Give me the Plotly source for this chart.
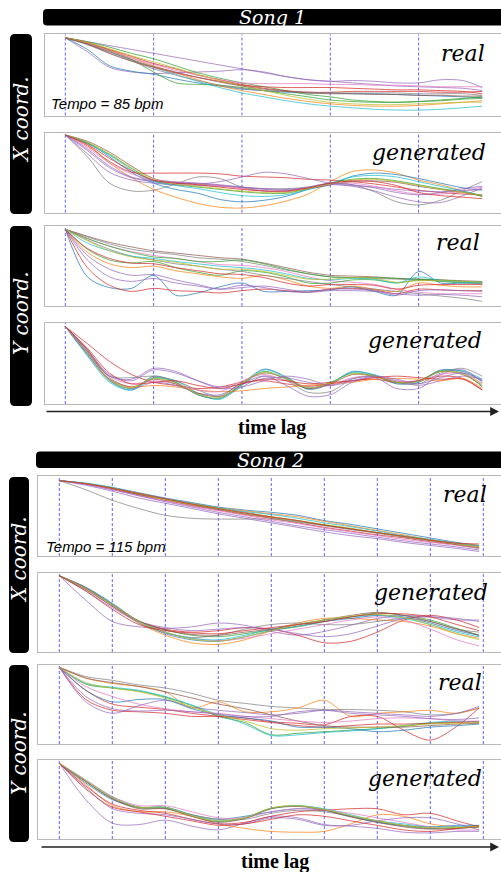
import plotly.graph_objects as go

W, H = 501, 872

# ---------------- data ----------------
LAG_S1 = [0, 0.25, 0.5, 0.75, 1, 1.25, 1.5, 1.75, 2, 2.25, 2.5, 2.75, 3, 3.25, 3.5, 3.75, 4, 4.25, 4.5, 4.72]
LAG_S2 = [0, 0.5, 1, 1.5, 2, 2.5, 3, 3.5, 4, 4.5, 5, 5.5, 6, 6.5, 7, 7.5, 7.92]
BEATS_S1 = [0, 1, 2, 3, 4]
BEATS_S2 = [0, 1, 2, 3, 4, 5, 6, 7, 8]

S1_X_REAL = [
    [1.0, .95, .90, .85, .80, .75, .70, .65, .60, .55, .50, .46, .44, .45, .44, .42, .42, .46, .45, .36],
    [1.0, .82, .62, .56, .54, .55, .56, .57, .59, .56, .50, .46, .44, .42, .40, .38, .37, .36, .35, .32],
    [1.0, .85, .64, .57, .53, .47, .42, .38, .34, .32, .30, .29, .29, .28, .28, .27, .26, .25, .24, .23],
    [1.0, .95, .88, .80, .73, .64, .55, .48, .42, .37, .32, .27, .24, .20, .18, .17, .18, .20, .22, .24],
    [1.0, .93, .84, .72, .56, .42, .40, .39, .36, .32, .28, .24, .20, .18, .17, .17, .18, .19, .21, .22],
    [1.0, .93, .84, .74, .64, .55, .46, .38, .32, .27, .22, .18, .15, .13, .12, .12, .13, .15, .17, .19],
    [1.0, .92, .82, .71, .62, .53, .44, .36, .29, .24, .19, .15, .12, .10, .08, .07, .07, .08, .10, .12],
    [1.0, .92, .80, .70, .62, .55, .49, .44, .39, .37, .36, .36, .36, .35, .34, .33, .33, .32, .31, .28],
    [1.0, .94, .85, .76, .67, .60, .52, .46, .40, .35, .32, .30, .30, .31, .31, .31, .31, .30, .30, .31],
    [1.0, .93, .83, .74, .66, .58, .52, .46, .42, .41, .41, .41, .40, .40, .39, .39, .38, .37, .37, .37],
    [1.0, .91, .80, .70, .60, .52, .45, .39, .35, .32, .31, .30, .29, .29, .29, .29, .28, .28, .28, .26],
    [1.0, .94, .86, .77, .69, .61, .53, .45, .38, .32, .26, .21, .17, .15, .14, .14, .15, .16, .17, .17],
    [1.0, .92, .82, .72, .63, .56, .49, .43, .38, .34, .31, .29, .28, .28, .27, .27, .26, .26, .25, .25],
]
C_S1_X_REAL = ["purple", "purple", "blue", "green", "green", "orange", "cyan", "red", "red", "pink", "gray", "olive", "brown"]

S1_X_GEN = [
    [1.0, .72, .38, .28, .29, .37, .46, .44, .33, .31, .31, .33, .38, .36, .27, .14, .10, .16, .29, .40],
    [1.0, .88, .64, .45, .30, .20, .12, .07, .06, .09, .15, .24, .40, .53, .55, .51, .42, .36, .28, .21],
    [1.0, .90, .72, .52, .38, .30, .25, .17, .14, .16, .21, .30, .36, .47, .51, .49, .44, .38, .32, .29],
    [1.0, .86, .66, .52, .51, .51, .51, .50, .47, .46, .45, .43, .42, .40, .37, .33, .29, .26, .24, .23],
    [1.0, .80, .58, .45, .40, .38, .37, .40, .46, .52, .50, .44, .38, .35, .33, .30, .28, .27, .28, .30],
    [1.0, .90, .75, .57, .41, .36, .33, .30, .27, .25, .25, .31, .38, .43, .44, .41, .36, .31, .27, .21],
    [1.0, .92, .78, .60, .44, .39, .37, .35, .32, .28, .27, .31, .36, .40, .41, .39, .34, .30, .26, .22],
    [1.0, .89, .74, .55, .40, .35, .31, .26, .22, .21, .23, .30, .38, .46, .48, .46, .40, .34, .28, .22],
    [1.0, .76, .52, .42, .38, .36, .35, .34, .33, .31, .30, .32, .36, .34, .28, .20, .14, .13, .22, .32],
    [1.0, .84, .64, .50, .42, .40, .38, .35, .31, .28, .28, .32, .37, .38, .34, .28, .24, .24, .28, .33],
    [1.0, .91, .76, .58, .43, .37, .34, .31, .28, .26, .26, .31, .37, .42, .43, .40, .35, .30, .26, .23],
    [1.0, .82, .60, .46, .41, .39, .38, .36, .33, .30, .29, .33, .38, .36, .32, .26, .23, .26, .31, .34],
    [1.0, .88, .70, .54, .42, .38, .36, .33, .30, .28, .28, .32, .38, .41, .40, .35, .26, .22, .20, .18],
]
C_S1_X_GEN = ["gray", "orange", "blue", "red", "purple", "green", "brown", "cyan", "purple", "pink", "olive", "purple", "red"]

S1_Y_REAL = [
    [1.0, .90, .81, .74, .70, .67, .63, .61, .58, .53, .47, .42, .38, .37, .36, .35, .34, .33, .31, .30],
    [1.0, .91, .83, .77, .72, .69, .66, .63, .61, .56, .50, .44, .40, .39, .38, .36, .35, .34, .33, .32],
    [1.0, .88, .78, .71, .66, .62, .58, .54, .53, .50, .45, .38, .33, .31, .28, .22, .18, .16, .16, .16],
    [1.0, .88, .78, .70, .64, .62, .58, .58, .60, .55, .48, .42, .38, .37, .37, .36, .35, .34, .32, .31],
    [1.0, .74, .60, .56, .58, .50, .44, .40, .46, .44, .38, .30, .30, .34, .34, .30, .34, .32, .30, .30],
    [1.0, .38, .24, .23, .40, .14, .17, .25, .30, .19, .19, .20, .21, .25, .19, .14, .45, .30, .30, .30],
    [1.0, .50, .27, .19, .23, .20, .19, .17, .20, .22, .20, .18, .22, .23, .21, .16, .22, .21, .20, .20],
    [1.0, .70, .55, .50, .52, .46, .42, .38, .36, .40, .34, .26, .23, .26, .22, .19, .30, .27, .25, .25],
    [1.0, .66, .48, .40, .41, .34, .28, .22, .24, .26, .22, .18, .20, .20, .19, .16, .14, .15, .14, .12],
    [1.0, .86, .74, .65, .60, .55, .52, .48, .45, .40, .36, .32, .28, .25, .22, .19, .16, .13, .10, .06],
    [1.0, .75, .62, .56, .55, .50, .46, .42, .41, .37, .30, .26, .28, .28, .27, .22, .27, .28, .28, .28],
    [1.0, .82, .72, .65, .62, .58, .55, .52, .50, .47, .42, .36, .34, .36, .35, .30, .38, .33, .31, .31],
    [1.0, .85, .72, .64, .60, .57, .52, .48, .48, .45, .40, .35, .35, .37, .36, .31, .33, .33, .32, .31],
    [1.0, .60, .38, .32, .36, .30, .26, .22, .27, .24, .19, .18, .22, .22, .20, .14, .20, .21, .20, .19],
]
C_S1_Y_REAL = ["gray", "brown", "pink", "green", "green", "blue", "red", "orange", "purple", "gray", "red", "cyan", "olive", "purple"]

S1_Y_GEN = [
    [1.0, .66, .31, .20, .34, .28, .12, .08, .25, .42, .32, .20, .28, .40, .36, .27, .30, .43, .40, .22],
    [1.0, .64, .30, .18, .36, .28, .12, .07, .26, .45, .35, .19, .26, .42, .37, .26, .28, .44, .42, .30],
    [1.0, .62, .28, .18, .33, .30, .14, .06, .24, .44, .34, .21, .27, .41, .38, .28, .29, .42, .43, .32],
    [1.0, .78, .55, .38, .28, .24, .20, .22, .28, .30, .26, .23, .26, .30, .32, .28, .30, .36, .33, .18],
    [1.0, .70, .38, .30, .44, .40, .30, .22, .26, .33, .34, .28, .24, .33, .36, .30, .24, .30, .36, .32],
    [1.0, .68, .32, .22, .24, .22, .18, .16, .17, .20, .22, .24, .26, .28, .32, .33, .32, .30, .33, .20],
    [1.0, .67, .36, .34, .36, .30, .18, .10, .22, .36, .30, .15, .16, .32, .36, .28, .26, .40, .46, .36],
    [1.0, .64, .32, .20, .28, .24, .14, .12, .26, .36, .24, .10, .12, .28, .34, .20, .20, .38, .44, .28],
    [1.0, .70, .36, .26, .30, .26, .18, .16, .30, .38, .30, .22, .24, .34, .36, .30, .30, .38, .40, .26],
    [1.0, .70, .34, .22, .32, .26, .14, .10, .28, .40, .33, .20, .26, .38, .36, .28, .30, .42, .38, .24],
    [1.0, .66, .31, .21, .33, .27, .13, .08, .27, .41, .33, .21, .27, .39, .36, .28, .29, .42, .39, .26],
    [1.0, .72, .40, .26, .28, .30, .24, .20, .26, .32, .30, .26, .28, .30, .34, .36, .34, .32, .32, .18],
    [1.0, .68, .36, .32, .46, .42, .30, .20, .22, .30, .36, .32, .24, .30, .36, .32, .26, .34, .40, .30],
]
C_S1_Y_GEN = ["green", "blue", "cyan", "red", "purple", "orange", "gray", "purple", "pink", "brown", "olive", "red", "purple"]

S2_X_REAL = [
    [1.0, .96, .90, .82, .76, .69, .63, .58, .52, .47, .41, .36, .31, .26, .21, .16, .13],
    [1.0, .96, .91, .84, .77, .71, .65, .61, .58, .54, .47, .42, .36, .30, .24, .18, .14],
    [1.0, .96, .90, .83, .76, .70, .64, .60, .56, .52, .46, .40, .34, .28, .22, .17, .14],
    [1.0, .96, .90, .82, .75, .68, .62, .56, .51, .46, .41, .36, .31, .26, .21, .15, .10],
    [1.0, .96, .89, .81, .74, .67, .61, .55, .50, .44, .38, .33, .28, .24, .19, .15, .11],
    [1.0, .94, .86, .77, .70, .63, .56, .50, .44, .38, .32, .27, .23, .18, .14, .10, .06],
    [1.0, .88, .74, .63, .54, .50, .49, .49, .49, .45, .40, .35, .30, .25, .20, .16, .12],
    [1.0, .95, .88, .80, .73, .66, .60, .54, .48, .43, .37, .32, .27, .22, .18, .14, .10],
    [1.0, .97, .91, .83, .76, .70, .64, .59, .55, .50, .44, .39, .33, .27, .22, .17, .13],
    [1.0, .96, .90, .83, .75, .69, .63, .57, .52, .47, .42, .37, .31, .26, .21, .16, .12],
    [1.0, .95, .88, .80, .72, .65, .58, .52, .46, .40, .35, .30, .25, .20, .16, .12, .08],
    [1.0, .96, .90, .83, .76, .69, .63, .57, .52, .47, .41, .36, .31, .26, .21, .17, .16],
]
C_S2_X_REAL = ["brown", "blue", "orange", "green", "red", "purple", "gray", "pink", "cyan", "olive", "purple", "red"]

S2_X_GEN = [
    [1.0, .83, .62, .40, .29, .22, .20, .24, .29, .33, .40, .46, .51, .48, .42, .31, .22],
    [1.0, .68, .40, .33, .31, .33, .38, .35, .27, .22, .27, .35, .44, .48, .46, .42, .42],
    [1.0, .82, .60, .40, .30, .26, .28, .32, .30, .22, .12, .14, .26, .42, .48, .42, .32],
    [1.0, .84, .62, .38, .22, .12, .10, .16, .28, .38, .44, .44, .42, .40, .34, .24, .18],
    [1.0, .85, .64, .40, .24, .16, .14, .20, .28, .34, .40, .44, .48, .46, .38, .28, .22],
    [1.0, .82, .60, .38, .25, .19, .22, .30, .36, .38, .36, .36, .40, .44, .40, .30, .26],
    [1.0, .84, .62, .40, .26, .18, .15, .18, .24, .30, .36, .42, .46, .42, .30, .16, .08],
    [1.0, .80, .58, .40, .32, .28, .30, .32, .30, .24, .20, .24, .34, .44, .46, .44, .40],
    [1.0, .84, .63, .40, .26, .18, .16, .22, .30, .36, .42, .46, .48, .44, .36, .26, .20],
    [1.0, .84, .62, .41, .29, .23, .22, .26, .30, .36, .42, .48, .52, .48, .40, .30, .22],
    [1.0, .83, .62, .40, .26, .17, .14, .20, .28, .36, .42, .47, .49, .45, .36, .24, .16],
    [1.0, .80, .56, .36, .28, .25, .24, .28, .32, .36, .40, .46, .50, .50, .46, .36, .28],
]
C_S2_X_GEN = ["green", "purple", "red", "orange", "blue", "gray", "pink", "purple", "cyan", "brown", "olive", "red"]

S2_Y_REAL = [
    [1.0, .88, .83, .77, .73, .66, .57, .53, .49, .47, .45, .45, .44, .42, .38, .40, .47],
    [1.0, .86, .79, .75, .68, .47, .55, .42, .42, .47, .57, .36, .40, .42, .44, .40, .47],
    [1.0, .78, .73, .69, .61, .50, .36, .28, .12, .14, .16, .18, .20, .23, .27, .29, .29],
    [1.0, .79, .74, .70, .62, .51, .38, .26, .11, .12, .15, .17, .20, .24, .28, .30, .28],
    [1.0, .58, .44, .42, .40, .36, .36, .34, .29, .27, .25, .36, .36, .18, .05, .23, .47],
    [1.0, .70, .52, .48, .45, .40, .36, .32, .28, .24, .22, .24, .26, .26, .27, .28, .29],
    [1.0, .55, .40, .50, .57, .48, .44, .41, .38, .40, .44, .42, .40, .38, .36, .40, .49],
    [1.0, .70, .55, .58, .58, .46, .38, .34, .30, .22, .22, .20, .16, .18, .22, .24, .26],
    [1.0, .86, .80, .75, .68, .60, .52, .46, .38, .30, .24, .22, .22, .22, .24, .26, .27],
    [1.0, .75, .62, .52, .46, .42, .40, .36, .33, .30, .28, .30, .33, .34, .33, .30, .30],
    [1.0, .80, .73, .68, .60, .48, .38, .30, .20, .18, .20, .21, .22, .24, .26, .27, .28],
    [1.0, .62, .46, .43, .44, .42, .39, .36, .36, .42, .44, .40, .38, .36, .33, .32, .34],
]
C_S2_Y_REAL = ["gray", "orange", "green", "cyan", "red", "red", "purple", "blue", "brown", "pink", "olive", "purple"]

S2_Y_GEN = [
    [1.0, .76, .54, .41, .41, .30, .23, .28, .41, .44, .39, .30, .23, .17, .14, .15, .17],
    [1.0, .52, .21, .19, .25, .17, .12, .21, .30, .28, .19, .17, .14, .09, .08, .10, .10],
    [1.0, .72, .44, .36, .36, .30, .20, .14, .10, .09, .10, .20, .32, .30, .20, .16, .15],
    [1.0, .70, .46, .38, .34, .26, .20, .22, .30, .36, .38, .40, .40, .32, .34, .24, .16],
    [1.0, .74, .52, .42, .42, .32, .26, .30, .36, .40, .38, .30, .22, .18, .16, .18, .18],
    [1.0, .78, .56, .42, .42, .32, .24, .28, .40, .44, .40, .32, .24, .20, .16, .16, .18],
    [1.0, .76, .54, .42, .40, .32, .26, .26, .34, .38, .36, .30, .24, .18, .14, .14, .16],
    [1.0, .78, .56, .44, .44, .36, .28, .28, .36, .40, .38, .34, .28, .22, .16, .12, .12],
    [1.0, .76, .53, .40, .40, .30, .22, .27, .40, .43, .38, .29, .22, .16, .13, .14, .16],
    [1.0, .68, .40, .34, .32, .26, .20, .20, .28, .26, .18, .18, .24, .28, .28, .20, .12],
    [1.0, .66, .42, .36, .30, .24, .18, .20, .26, .32, .30, .24, .18, .12, .10, .14, .18],
    [1.0, .77, .55, .42, .42, .31, .24, .28, .41, .44, .39, .31, .24, .18, .15, .15, .17],
]
C_S2_Y_GEN = ["green", "purple", "orange", "red", "blue", "cyan", "gray", "pink", "brown", "purple", "red", "olive"]

PALETTE = {
    "blue": "#1f77b4", "orange": "#ff7f0e", "green": "#2ca02c", "red": "#d62728",
    "purple": "#9467bd", "brown": "#8c564b", "pink": "#e377c2", "gray": "#7f7f7f",
    "olive": "#bcbd22", "cyan": "#17becf",
}

# ---------------- layout helpers ----------------
def px(x):
    return x / W

def py(y):
    return 1 - y / H

def rrect(x0, y0, x1, y1, r):
    p = [
        f"M {px(x0+r)},{py(y0)}",
        f"L {px(x1-r)},{py(y0)}",
        f"Q {px(x1)},{py(y0)} {px(x1)},{py(y0+r)}",
        f"L {px(x1)},{py(y1-r)}",
        f"Q {px(x1)},{py(y1)} {px(x1-r)},{py(y1)}",
        f"L {px(x0+r)},{py(y1)}",
        f"Q {px(x0)},{py(y1)} {px(x0)},{py(y1-r)}",
        f"L {px(x0)},{py(y0+r)}",
        f"Q {px(x0)},{py(y0)} {px(x0+r)},{py(y0)} Z",
    ]
    return dict(type="path", xref="paper", yref="paper", path=" ".join(p),
                fillcolor="black", line=dict(width=0), layer="above")

# panel geometry (pixels)
PANELS = [
    # data, colors, lag, beats, left, top, bottom, x0px, beatpx, ytop
    (S1_X_REAL, C_S1_X_REAL, LAG_S1, BEATS_S1, 45, 34.3, 115.5, 65.3, 88.33, 1.045),
    (S1_X_GEN, C_S1_X_GEN, LAG_S1, BEATS_S1, 45, 132.7, 212.7, 65.3, 88.33, 1.03),
    (S1_Y_REAL, C_S1_Y_REAL, LAG_S1, BEATS_S1, 45, 226, 306, 65.3, 88.33, 1.043),
    (S1_Y_GEN, C_S1_Y_GEN, LAG_S1, BEATS_S1, 45, 322.7, 404, 65.3, 88.33, 1.05),
    (S2_X_REAL, C_S2_X_REAL, LAG_S2, BEATS_S2, 38, 476, 556, 59.3, 53.0, 1.062),
    (S2_X_GEN, C_S2_X_GEN, LAG_S2, BEATS_S2, 38, 572.7, 652, 59.3, 53.0, 1.04),
    (S2_Y_REAL, C_S2_Y_REAL, LAG_S2, BEATS_S2, 38, 665, 744, 59.3, 53.0, 1.03),
    (S2_Y_GEN, C_S2_Y_GEN, LAG_S2, BEATS_S2, 38, 760, 839, 59.3, 53.0, 1.044),
]

fig = go.Figure()
layout = dict(
    width=W, height=H, margin=dict(l=0, r=0, t=0, b=0),
    paper_bgcolor="white", plot_bgcolor="white", showlegend=False,
)
shapes = []

for i, (data, cols, lag, beats, left, top, bottom, x0px, beatpx, ytop) in enumerate(PANELS, start=1):
    xa = "x" if i == 1 else f"x{i}"
    ya = "y" if i == 1 else f"y{i}"
    xkey = "xaxis" if i == 1 else f"xaxis{i}"
    ykey = "yaxis" if i == 1 else f"yaxis{i}"
    layout[xkey] = dict(
        domain=[left / W, 1.0], anchor=ya,
        range=[-(x0px - left) / beatpx, (W - x0px) / beatpx],
        showgrid=False, zeroline=False, showticklabels=False, ticks="",
        showline=True, mirror=True, linecolor="#b8b8b8", linewidth=1, fixedrange=True,
    )
    layout[ykey] = dict(
        domain=[1 - bottom / H, 1 - top / H], anchor=xa,
        range=[0, ytop],
        showgrid=False, zeroline=False, showticklabels=False, ticks="",
        showline=True, mirror=True, linecolor="#b8b8b8", linewidth=1, fixedrange=True,
    )
    for b in beats:
        shapes.append(dict(type="line", xref=xa, yref=f"{ya} domain", x0=b, x1=b, y0=0, y1=1,
                           line=dict(color="rgba(60,60,255,0.8)", width=1, dash="3px,2px"),
                           layer="below"))
    for series, c in zip(data, cols):
        fig.add_trace(go.Scatter(
            x=lag, y=series, xaxis=xa, yaxis=ya, mode="lines",
            line=dict(color=PALETTE[c], width=1, shape="spline", smoothing=0.9),
            opacity=0.72, hoverinfo="skip",
        ))

# black label bars
shapes += [
    rrect(43, 9, 520, 25.5, 4),
    rrect(10, 34, 32, 214, 5),
    rrect(10, 226, 32, 406, 5),
    rrect(36, 451.5, 520, 468, 4),
    rrect(9, 477, 29, 653, 5),
    rrect(9, 665, 29, 842, 5),
]
layout["shapes"] = shapes

SERIF = "Liberation Serif"
WIDE_SERIF = "DejaVu Serif"
SANS = "Liberation Sans"
ann = []

def text(t, x, y, size, color="black", family=WIDE_SERIF, xanchor="center", angle=0):
    ann.append(dict(text=t, x=px(x), y=py(y), xref="paper", yref="paper", showarrow=False,
                    xanchor=xanchor, yanchor="middle", textangle=angle,
                    font=dict(family=family, size=size, color=color)))

# titles
text("<i>Song 1</i>", 272, 17.5, 19, "white")
text("<i>Song 2</i>", 270, 460, 19, "white")
# side labels
text("<i>X coord.</i>", 21, 120, 20, "white", angle=-90)
text("<i>Y coord.</i>", 21, 313, 20, "white", angle=-90)
text("<i>X coord.</i>", 19, 560, 20, "white", angle=-90)
text("<i>Y coord.</i>", 19, 753, 20, "white", angle=-90)
# panel labels
text("<i>real</i>", 487, 53, 22, xanchor="right")
text("<i>generated</i>", 488, 152, 22, xanchor="right")
text("<i>real</i>", 482, 242, 22, xanchor="right")
text("<i>generated</i>", 484, 340, 22, xanchor="right")
text("<i>real</i>", 489, 494, 22, xanchor="right")
text("<i>generated</i>", 490, 592, 22, xanchor="right")
text("<i>real</i>", 484, 682, 22, xanchor="right")
text("<i>generated</i>", 484, 778, 22, xanchor="right")
# tempo
text("<i>Tempo = 85 bpm</i>", 49, 104, 15, family=SANS, xanchor="left")
text("<i>Tempo = 115 bpm</i>", 44, 546, 15, family=SANS, xanchor="left")
# time lag
text("<b>time lag</b>", 272, 427, 20, family=SERIF)
text("<b>time lag</b>", 275, 861, 20, family=SERIF)

# arrows
for (x0, x1, y) in [(45, 499, 411.5), (40, 499, 847)]:
    ann.append(dict(text="", x=px(x1), y=py(y), xref="paper", yref="paper",
                    ax=-(x1 - x0), ay=0, showarrow=True, arrowhead=2, arrowsize=1.1,
                    arrowwidth=1.6, arrowcolor="#222"))

layout["annotations"] = ann
fig.update_layout(**layout)
fig.write_html("out.html", config={"displayModeBar": False, "staticPlot": True},
               post_script="document.body.style.margin='0px';")
